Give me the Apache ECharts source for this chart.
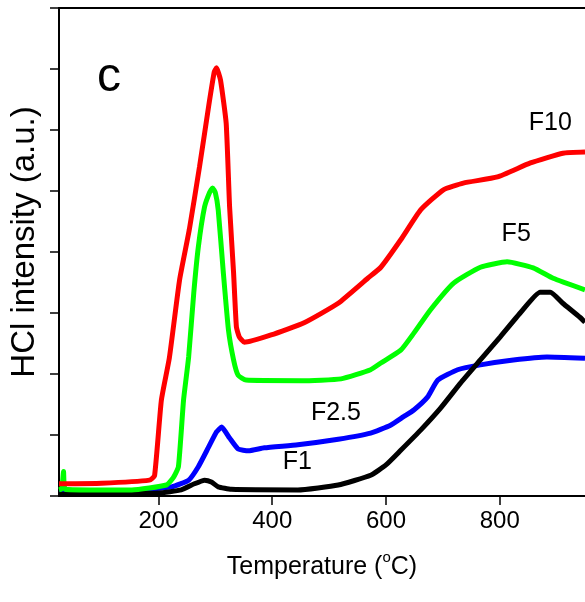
<!DOCTYPE html>
<html>
<head>
<meta charset="utf-8">
<script src="https://cdn.jsdelivr.net/npm/echarts@6/dist/echarts.min.js"></script>
<style>
html, body { margin: 0; padding: 0; background: #fff; }
#chart { width: 585px; height: 602px; }
</style>
</head>
<body>
<div id="chart"></div>
<script>
// tick labels on the temperature axis
var xTicks = [200, 400, 600, 800];

// F10 (red)
var f10Temp = [25, 100, 184, 193, 205, 219, 237, 254, 272, 288, 298, 302, 309, 319, 325, 332, 337, 342, 351, 398, 456, 516, 568, 591, 626, 661, 701, 736, 796, 854, 911, 950];
var f10Val  = [0.20, 0.21, 0.26, 0.33, 1.57, 2.26, 3.54, 4.36, 5.39, 6.38, 6.95, 7.02, 6.82, 6.11, 4.74, 3.66, 2.77, 2.61, 2.52, 2.64, 2.84, 3.16, 3.57, 3.75, 4.20, 4.69, 5.02, 5.13, 5.23, 5.46, 5.62, 5.64];

// F5 (green)
var f5Temp = [25, 30, 33, 36, 80, 153, 214, 226, 235, 244, 253, 262, 270, 281, 290, 295, 300, 305, 314, 323, 332, 340, 354, 451, 521, 573, 591, 626, 649, 678, 719, 766, 813, 859, 894, 950];
var f5Val  = [0.10, 0.12, 0.40, 0.11, 0.10, 0.10, 0.18, 0.30, 0.48, 1.57, 2.28, 3.33, 4.08, 4.74, 4.98, 5.05, 4.97, 4.69, 3.66, 2.72, 2.23, 1.98, 1.90, 1.89, 1.92, 2.07, 2.18, 2.39, 2.67, 3.05, 3.49, 3.75, 3.84, 3.74, 3.57, 3.38];

// F2.5 (blue)
var f25Temp = [25, 153, 183, 223, 253, 270, 288, 302, 311, 325, 340, 358, 386, 445, 516, 573, 608, 631, 649, 673, 691, 726, 766, 824, 883, 950];
var f25Val  = [0.07, 0.08, 0.11, 0.15, 0.26, 0.48, 0.80, 1.05, 1.13, 0.95, 0.77, 0.74, 0.79, 0.84, 0.93, 1.03, 1.16, 1.30, 1.41, 1.62, 1.90, 2.07, 2.15, 2.23, 2.28, 2.26];

// F1 (black)
var f1Temp = [25, 200, 240, 263, 281, 293, 305, 328, 445, 516, 573, 600, 626, 661, 696, 731, 766, 801, 836, 871, 889, 911, 941, 950];
var f1Val  = [0.03, 0.05, 0.10, 0.20, 0.26, 0.23, 0.15, 0.11, 0.10, 0.18, 0.34, 0.51, 0.75, 1.08, 1.44, 1.85, 2.23, 2.61, 3.00, 3.34, 3.34, 3.16, 2.93, 2.85];

var font = "'Liberation Sans', Arial, sans-serif";

function pairs(t, v) {
    var out = [];
    for (var i = 0; i < t.length; i++) out.push([t[i], v[i]]);
    return out;
}

function tag(text, coord, size) {
    return {
        coord: coord,
        symbol: 'circle',
        symbolSize: 0,
        label: {
            show: true,
            position: 'inside',
            formatter: text,
            color: '#000',
            fontSize: size,
            fontFamily: font
        }
    };
}

function curve(name, color, t, v, tags) {
    return {
        name: name,
        type: 'line',
        data: pairs(t, v),
        showSymbol: false,
        smooth: 0.15,
        lineStyle: { color: color, width: 5 },
        itemStyle: { color: color },
        markPoint: { silent: true, data: tags, animation: false },
        animation: false
    };
}

var chart = echarts.init(document.getElementById('chart'));
chart.setOption({
    backgroundColor: '#fff',
    grid: { left: 57, right: 0, top: 8, bottom: 106 },
    xAxis: [{
        type: 'value',
        min: 25,
        max: 950,
        name: '{base|Temperature (}{sup|o}{base|C)}',
        nameLocation: 'middle',
        nameGap: 54,
        nameTextStyle: {
            color: '#000',
            fontSize: 25,
            fontFamily: font,
            rich: {
                base: { fontSize: 25, fontFamily: font, color: '#000', lineHeight: 30, verticalAlign: 'bottom' },
                sup: { fontSize: 15, fontFamily: font, color: '#000', lineHeight: 15, verticalAlign: 'top' }
            }
        },
        axisLine: { show: true, lineStyle: { color: '#000', width: 2 } },
        axisTick: { show: true, inside: false, length: 9, customValues: xTicks, lineStyle: { color: '#000', width: 1.5 } },
        axisLabel: { show: true, customValues: xTicks, margin: 13, color: '#000', fontSize: 24, fontFamily: font },
        splitLine: { show: false }
    }, {
        type: 'value',
        position: 'top',
        min: 25,
        max: 950,
        axisLine: { show: true, onZero: false, lineStyle: { color: '#000', width: 2 } },
        axisTick: { show: false },
        axisLabel: { show: false },
        splitLine: { show: false }
    }],
    yAxis: {
        type: 'value',
        min: 0,
        max: 8,
        interval: 1,
        name: 'HCl intensity (a.u.)',
        nameLocation: 'middle',
        nameGap: 18,
        nameTextStyle: { color: '#000', fontSize: 33, fontFamily: font, padding: [0, 0, 0, 20] },
        axisLine: { show: true, lineStyle: { color: '#000', width: 2 } },
        axisTick: { show: true, inside: false, length: 9, lineStyle: { color: '#000', width: 1.5 } },
        axisLabel: { show: false },
        splitLine: { show: false }
    },
    series: [
        curve('F2.5', '#0000ff', f25Temp, f25Val, [tag('F2.5', [512, 1.36], 25)]),
        curve('F1', '#000000', f1Temp, f1Val, [tag('F1', [444, 0.56], 25)]),
        curve('F5', '#00ff00', f5Temp, f5Val, [tag('F5', [829, 4.30], 25)]),
        curve('F10', '#ff0000', f10Temp, f10Val, [tag('F10', [889, 6.11], 25), tag('c', [113, 6.85], 48)])
    ]
});
</script>
</body>
</html>
